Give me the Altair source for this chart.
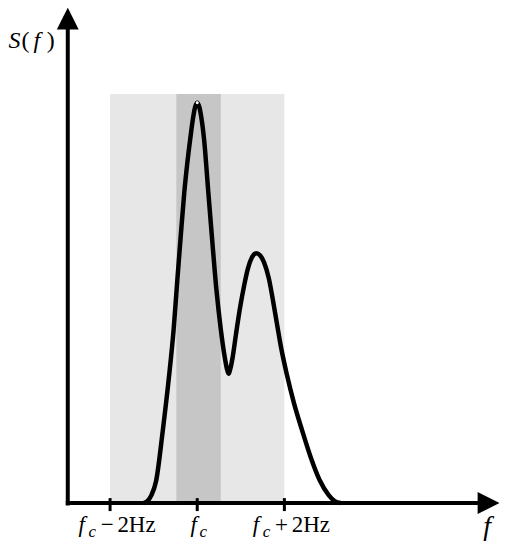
import altair as alt
import pandas as pd

# ---- data (f relative to f_c, in Hz; S normalised to main peak) ----
curve_f = [-1.234, -1.143, -1.051, -0.944, -0.793, -0.656, -0.542, -0.457, -0.377, -0.297,
           -0.229, -0.160, -0.091, -0.046, 0.0, 0.046, 0.091, 0.160, 0.251, 0.343,
           0.441, 0.542, 0.629, 0.686, 0.720, 0.754, 0.811, 0.891, 0.983, 1.074,
           1.166, 1.257, 1.355, 1.440, 1.531, 1.646, 1.737, 1.829, 1.920, 2.057,
           2.217, 2.400, 2.606, 2.811, 3.017, 3.154, 3.291]
curve_s = [0.0, 0.005, 0.020, 0.055, 0.179, 0.308, 0.433, 0.557, 0.669, 0.776,
           0.848, 0.910, 0.965, 0.990, 1.0, 0.990, 0.965, 0.905, 0.781, 0.657,
           0.532, 0.433, 0.366, 0.333, 0.323, 0.333, 0.363, 0.423, 0.488, 0.542,
           0.587, 0.614, 0.624, 0.619, 0.602, 0.560, 0.507, 0.448, 0.391, 0.321,
           0.251, 0.184, 0.114, 0.057, 0.020, 0.005, 0.0]
tick_f = [-2, 0, 2]
tick_ops = ["\u2212", "", "+"]
wide_band = [-2.0, 2.0]
narrow_band = [-0.48, 0.54]
band_top = 1.022
peak = [0.0, 1.0]
axis_f = [-2.971, 6.686]     # y-axis position, x-arrow centre
axis_s = [0.0, 1.210]        # x-axis position, y-arrow centre

# ---- scales ----
PX_F = 43.75
PX_S = 402.0
W, H = 494, 536
fmin = -(198 - 8) / PX_F
fmax = fmin + W / PX_F
smax = (504 - 8) / PX_S
smin = smax - H / PX_S
xs = alt.Scale(domain=[fmin, fmax], nice=False, zero=False)
ys = alt.Scale(domain=[smin, smax], nice=False, zero=False)
X = lambda f="x": alt.X(f"{f}:Q", scale=xs, axis=None)
Y = lambda f="y": alt.Y(f"{f}:Q", scale=ys, axis=None)
FONT = "Liberation Serif"

bands = pd.DataFrame({
    "x": [wide_band[0], narrow_band[0]], "x2": [wide_band[1], narrow_band[1]],
    "y": [0, 0], "y2": [band_top, band_top], "c": ["#e7e7e7", "#c6c6c6"]})
band_layer = alt.Chart(bands).mark_rect(clip=False).encode(
    x=X("x"), x2="x2", y=Y("y"), y2="y2", color=alt.Color("c:N", scale=None))

curve = alt.Chart(pd.DataFrame({"x": curve_f, "y": curve_s})).mark_line(
    color="black", strokeWidth=4.5, interpolate="monotone", clip=False).encode(x=X(), y=Y())

dot = alt.Chart(pd.DataFrame({"x": [peak[0]], "y": [peak[1]]})).mark_point(
    filled=True, color="white", size=9, opacity=1).encode(x=X(), y=Y())

# axes
yaxis = alt.Chart(pd.DataFrame({"x": [axis_f[0]], "y": [axis_s[0] - 0.006], "y2": [axis_s[1]]})).mark_rule(
    color="black", strokeWidth=4).encode(x=X(), y=Y(), y2="y2")
xaxis = alt.Chart(pd.DataFrame({"x": [axis_f[0] - 0.045], "x2": [axis_f[1]], "y": [axis_s[0]]})).mark_rule(
    color="black", strokeWidth=4).encode(x=X(), x2="x2", y=Y())
arr_up = alt.Chart(pd.DataFrame({"x": [axis_f[0]], "y": [axis_s[1]]})).mark_point(
    shape="M0,-1L-1,1L1,1Z", filled=True, color="black", size=484, opacity=1).encode(x=X(), y=Y())
arr_right = alt.Chart(pd.DataFrame({"x": [axis_f[1]], "y": [axis_s[0]]})).mark_point(
    shape="M1,0L-1,-1L-1,1Z", filled=True, color="black", size=484, opacity=1).encode(x=X(), y=Y())

ticks = alt.Chart(pd.DataFrame({"x": tick_f, "y": [0.0124] * 3, "y2": [-0.02] * 3})).mark_rule(
    color="black", strokeWidth=3).encode(x=X(), y=Y(), y2="y2")


def txt(x, y, text, dx, dy, size, italic=False):
    return alt.Chart(pd.DataFrame({"x": [x], "y": [y], "t": [text]})).mark_text(
        dx=dx, dy=dy, fontSize=size, font=FONT, fontStyle="italic" if italic else "normal",
        align="center", baseline="alphabetic", color="black", clip=False).encode(
        x=X(), y=Y(), text="t:N")


labels = []
for t, op in zip(tick_f, tick_ops):
    if op:
        labels += [txt(t, 0, "f", -28.5, 29.5, 23, True),
                   txt(t, 0, "c", -18, 34, 17, True),
                   txt(t, 0, op, -3, 29, 23),
                   txt(t, 0, "2Hz", 26.5, 29, 23)]
    else:
        labels += [txt(t, 0, "f", -3.5, 29.5, 23, True),
                   txt(t, 0, "c", 6, 34, 17, True)]

labels += [txt(axis_f[1], axis_s[0], "f", -1.5, 32, 28, True)]
labels += [txt(axis_f[0], axis_s[1], "S", -53.5, 29.5, 24, True),
           txt(axis_f[0], axis_s[1], "(", -42.5, 29.5, 24),
           txt(axis_f[0], axis_s[1], "f", -31, 29.5, 24, True),
           txt(axis_f[0], axis_s[1], ")", -17, 29.5, 24)]

chart = alt.layer(band_layer, curve, dot, xaxis, yaxis, arr_up, arr_right, ticks, *labels).properties(
    width=W, height=H, padding=0, autosize=alt.AutoSizeParams(type="none"),
    background="white").configure_view(stroke=None)

chart.save("out.html", embed_options={"renderer": "svg", "actions": False})
